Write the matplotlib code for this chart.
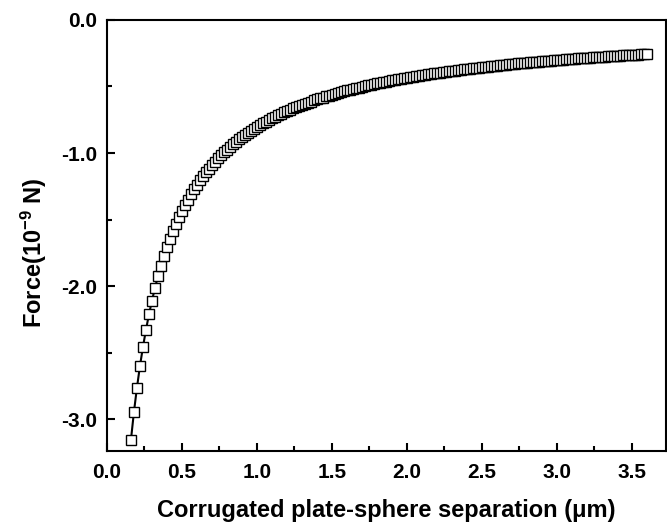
import matplotlib
matplotlib.use("Agg")
import matplotlib.pyplot as plt
from matplotlib.ticker import MultipleLocator

plt.rcParams['font.family'] = ['Liberation Sans', 'DejaVu Sans']
plt.rcParams['font.weight'] = 'bold'
plt.rcParams['mathtext.fontset'] = 'custom'
plt.rcParams['mathtext.rm'] = 'Liberation Sans:bold'
plt.rcParams['mathtext.bf'] = 'Liberation Sans:bold'
plt.rcParams['mathtext.default'] = 'bf'

# separation (um)
separation = [
    0.16, 0.18, 0.20, 0.22, 0.24, 0.26, 0.28, 0.30, 0.32, 0.34,
    0.36, 0.38, 0.40, 0.42, 0.44, 0.46, 0.48, 0.50, 0.52, 0.54,
    0.56, 0.58, 0.60, 0.62, 0.64, 0.66, 0.68, 0.70, 0.72, 0.74,
    0.76, 0.78, 0.80, 0.82, 0.84, 0.86, 0.88, 0.90, 0.92, 0.94,
    0.96, 0.98, 1.00, 1.02, 1.04, 1.06, 1.08, 1.10, 1.12, 1.14,
    1.16, 1.18, 1.20, 1.22, 1.24, 1.26, 1.28, 1.30, 1.32, 1.34,
    1.36, 1.38, 1.40, 1.42, 1.44, 1.46, 1.48, 1.50, 1.52, 1.54,
    1.56, 1.58, 1.60, 1.62, 1.64, 1.66, 1.68, 1.70, 1.72, 1.74,
    1.76, 1.78, 1.80, 1.82, 1.84, 1.86, 1.88, 1.90, 1.92, 1.94,
    1.96, 1.98, 2.00, 2.02, 2.04, 2.06, 2.08, 2.10, 2.12, 2.14,
    2.16, 2.18, 2.20, 2.22, 2.24, 2.26, 2.28, 2.30, 2.32, 2.34,
    2.36, 2.38, 2.40, 2.42, 2.44, 2.46, 2.48, 2.50, 2.52, 2.54,
    2.56, 2.58, 2.60, 2.62, 2.64, 2.66, 2.68, 2.70, 2.72, 2.74,
    2.76, 2.78, 2.80, 2.82, 2.84, 2.86, 2.88, 2.90, 2.92, 2.94,
    2.96, 2.98, 3.00, 3.02, 3.04, 3.06, 3.08, 3.10, 3.12, 3.14,
    3.16, 3.18, 3.20, 3.22, 3.24, 3.26, 3.28, 3.30, 3.32, 3.34,
    3.36, 3.38, 3.40, 3.42, 3.44, 3.46, 3.48, 3.50, 3.52, 3.54,
    3.56, 3.58, 3.60,
]

# force (1e-9 N)
force = [
    -3.154, -2.945, -2.763, -2.601, -2.458, -2.329, -2.214, -2.110, -2.015, -1.928,
    -1.848, -1.775, -1.708, -1.645, -1.587, -1.533, -1.483, -1.435, -1.391, -1.350,
    -1.311, -1.274, -1.239, -1.206, -1.175, -1.145, -1.117, -1.090, -1.065, -1.040,
    -1.017, -0.995, -0.974, -0.954, -0.934, -0.915, -0.898, -0.880, -0.864, -0.848,
    -0.833, -0.818, -0.804, -0.790, -0.777, -0.764, -0.751, -0.739, -0.728, -0.716,
    -0.706, -0.695, -0.685, -0.675, -0.665, -0.656, -0.647, -0.638, -0.629, -0.621,
    -0.613, -0.605, -0.597, -0.590, -0.583, -0.575, -0.569, -0.562, -0.555, -0.549,
    -0.542, -0.536, -0.530, -0.524, -0.519, -0.513, -0.508, -0.502, -0.497, -0.492,
    -0.487, -0.482, -0.477, -0.472, -0.468, -0.463, -0.459, -0.454, -0.450, -0.446,
    -0.442, -0.438, -0.434, -0.430, -0.426, -0.423, -0.419, -0.415, -0.412, -0.408,
    -0.405, -0.402, -0.398, -0.395, -0.392, -0.389, -0.386, -0.383, -0.380, -0.377,
    -0.374, -0.371, -0.368, -0.366, -0.363, -0.360, -0.358, -0.355, -0.352, -0.350,
    -0.347, -0.345, -0.343, -0.340, -0.338, -0.336, -0.333, -0.331, -0.329, -0.327,
    -0.325, -0.323, -0.321, -0.318, -0.316, -0.314, -0.313, -0.311, -0.309, -0.307,
    -0.305, -0.303, -0.301, -0.299, -0.298, -0.296, -0.294, -0.293, -0.291, -0.289,
    -0.288, -0.286, -0.284, -0.283, -0.281, -0.280, -0.278, -0.277, -0.275, -0.274,
    -0.272, -0.271, -0.269, -0.268, -0.267, -0.265, -0.264, -0.262, -0.261, -0.260,
    -0.258, -0.257, -0.256,
]

xticks = [0.0, 0.5, 1.0, 1.5, 2.0, 2.5, 3.0, 3.5]
yticks = [0.0, -1.0, -2.0, -3.0]

fig = plt.figure(figsize=(6.67, 5.23), dpi=100)
ax = fig.add_axes([0.1604, 0.1377, 0.8381, 0.8241])

ax.plot(separation, force, color='black', linewidth=1.5,
        marker='s', markersize=6.5, markerfacecolor='white',
        markeredgecolor='black', markeredgewidth=1.0)

ax.set_xlim(0.0, 3.73)
ax.set_ylim(-3.24, 0.0)
ax.set_xticks(xticks)
ax.set_yticks(yticks)
ax.set_xticklabels(['%.1f' % v for v in xticks])
ax.set_yticklabels(['%.1f' % v for v in yticks])
ax.xaxis.set_minor_locator(MultipleLocator(0.25))
ax.yaxis.set_minor_locator(MultipleLocator(0.5))

ax.tick_params(which='both', direction='in', top=False, right=False,
               width=1.5, labelsize=15)
ax.tick_params(axis='x', pad=9)
ax.tick_params(axis='y', pad=7)
ax.tick_params(which='major', length=6)
ax.tick_params(which='minor', length=3.5)
for lbl in ax.get_xticklabels() + ax.get_yticklabels():
    lbl.set_fontweight('bold')

for sp in ax.spines.values():
    sp.set_linewidth(1.5)

ax.set_xlabel('Corrugated plate-sphere separation (μm)', fontsize=17,
              fontweight='bold', labelpad=12)
ax.set_ylabel(r'Force(10$^{-9}$ N)', fontsize=17, fontweight='bold')
ax.yaxis.set_label_coords(-0.104, 0.46)

fig.savefig('out.png', dpi=100)
